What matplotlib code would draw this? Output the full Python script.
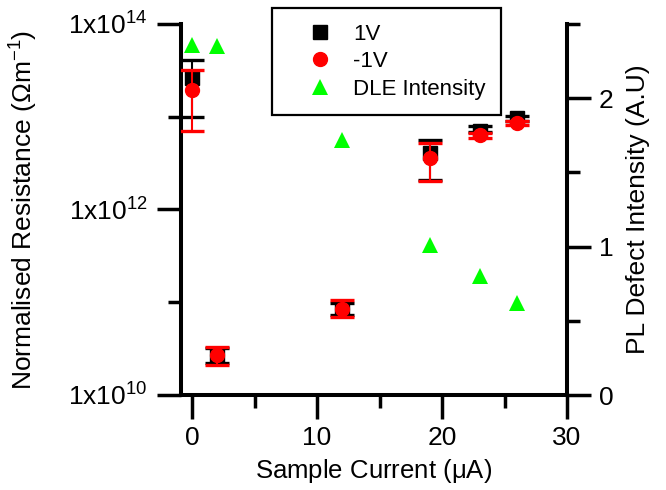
import matplotlib
matplotlib.use("Agg")
import matplotlib.pyplot as plt
from matplotlib.lines import Line2D
import numpy as np

plt.rcParams['font.family'] = ['Liberation Sans', 'DejaVu Sans']
plt.rcParams['mathtext.default'] = 'regular'

# data
current = [0, 2, 12, 19, 23, 26]          # sample current (uA)

res_pos = [2.6e13, 2.7e10, 8.5e10, 4.1e12, 7.1e12, 9.6e12]     # 1V
pos_low = [1.0e13, 2.2e10, 7.3e10, 2.1e12, 6.8e12, 8.9e12]
pos_high = [4.1e13, 3.2e10, 9.9e10, 5.6e12, 7.9e12, 1.01e13]

res_neg = [1.94e13, 2.7e10, 8.5e10, 3.56e12, 6.3e12, 8.6e12]   # -1V
neg_low = [7.1e12, 2.1e10, 6.9e10, 2.05e12, 5.9e12, 8.1e12]
neg_high = [3.2e13, 3.3e10, 1.07e11, 5.2e12, 6.6e12, 9.1e12]

dle = [2.36, 2.35, 1.72, 1.01, 0.80, 0.62]  # PL defect intensity

left_ticks = [1e10, 1e12, 1e14]
left_ticklabels = [r'1x10$^{10}$', r'1x10$^{12}$', r'1x10$^{14}$']

fig = plt.figure(figsize=(6.66, 4.9), dpi=100)
ax = fig.add_axes([181/666, 1 - 395/490, (567 - 181)/666, (395 - 24)/490])
ax2 = ax.twinx()

lw_spine = 2.9
for a in (ax, ax2):
    for s in a.spines.values():
        s.set_linewidth(lw_spine)
ax.spines['top'].set_visible(False)
ax.spines['right'].set_visible(False)
ax2.spines['top'].set_visible(False)
ax2.spines['left'].set_visible(False)
ax2.spines['bottom'].set_visible(False)

def err(vals, lo, hi):
    v = np.array(vals)
    return [v - np.array(lo), np.array(hi) - v]

ax.errorbar(current, res_pos, yerr=err(res_pos, pos_low, pos_high), fmt='s',
            color='black', ms=9.5, elinewidth=1.5, capsize=8.5, capthick=2.4, zorder=3)
ax.errorbar(current, res_neg, yerr=err(res_neg, neg_low, neg_high), fmt='o',
            color='#FF0000', ms=10, elinewidth=1.5, capsize=8.5, capthick=2.4, zorder=4)
ax2.plot(current, dle, '^', color='#00FF00', ms=11, markeredgewidth=0)

ax.set_yscale('log')
ax.set_ylim(1e10, 1e14)
ax.set_xlim(-0.88, 30)
ax.set_yticks(left_ticks)
ax.set_yticklabels(left_ticklabels)
ax.set_yticks([1e11, 1e13], minor=True)
ax.yaxis.set_minor_formatter(matplotlib.ticker.NullFormatter())
ax.set_xticks([0, 10, 20, 30])
ax.set_xticks([5, 15, 25], minor=True)

ax2.set_ylim(0, 2.5)
ax2.set_yticks([0, 1, 2])
ax2.set_yticks([0.5, 1.5, 2.5], minor=True)

for a in (ax, ax2):
    a.tick_params(which='major', direction='out', length=17, width=2.5, labelsize=19)
    a.tick_params(which='minor', direction='out', length=9.5, width=2.5)
ax.tick_params(axis='y', pad=7)
ax.tick_params(axis='x', pad=5)
ax2.tick_params(axis='y', pad=6)

ax.set_xlabel(r'Sample Current ($\mu$A)', fontsize=18.5, labelpad=5)
ax.set_ylabel(r'Normalised Resistance ($\Omega$m$^{-1}$)', fontsize=19, labelpad=20)
ax2.set_ylabel('PL Defect Intensity (A.U)', fontsize=19, rotation=90, labelpad=9)

handles = [
    Line2D([], [], ls='none', marker='s', color='black', ms=9.5),
    Line2D([], [], ls='none', marker='o', color='#FF0000', ms=10),
    Line2D([], [], ls='none', marker='^', color='#00FF00', ms=11, markeredgewidth=0),
]
leg = fig.legend(handles, ['1V', '-1V', 'DLE Intensity'], loc='upper left',
                 bbox_to_anchor=(272/666, 1 - 8/490), borderaxespad=0, fontsize=16,
                 fancybox=False, framealpha=1, edgecolor='black', borderpad=0.7,
                 labelspacing=0.3, handlelength=2.93, handletextpad=0.02, numpoints=1)
leg.get_frame().set_linewidth(1.6)

fig.savefig('out.png', dpi=100)
